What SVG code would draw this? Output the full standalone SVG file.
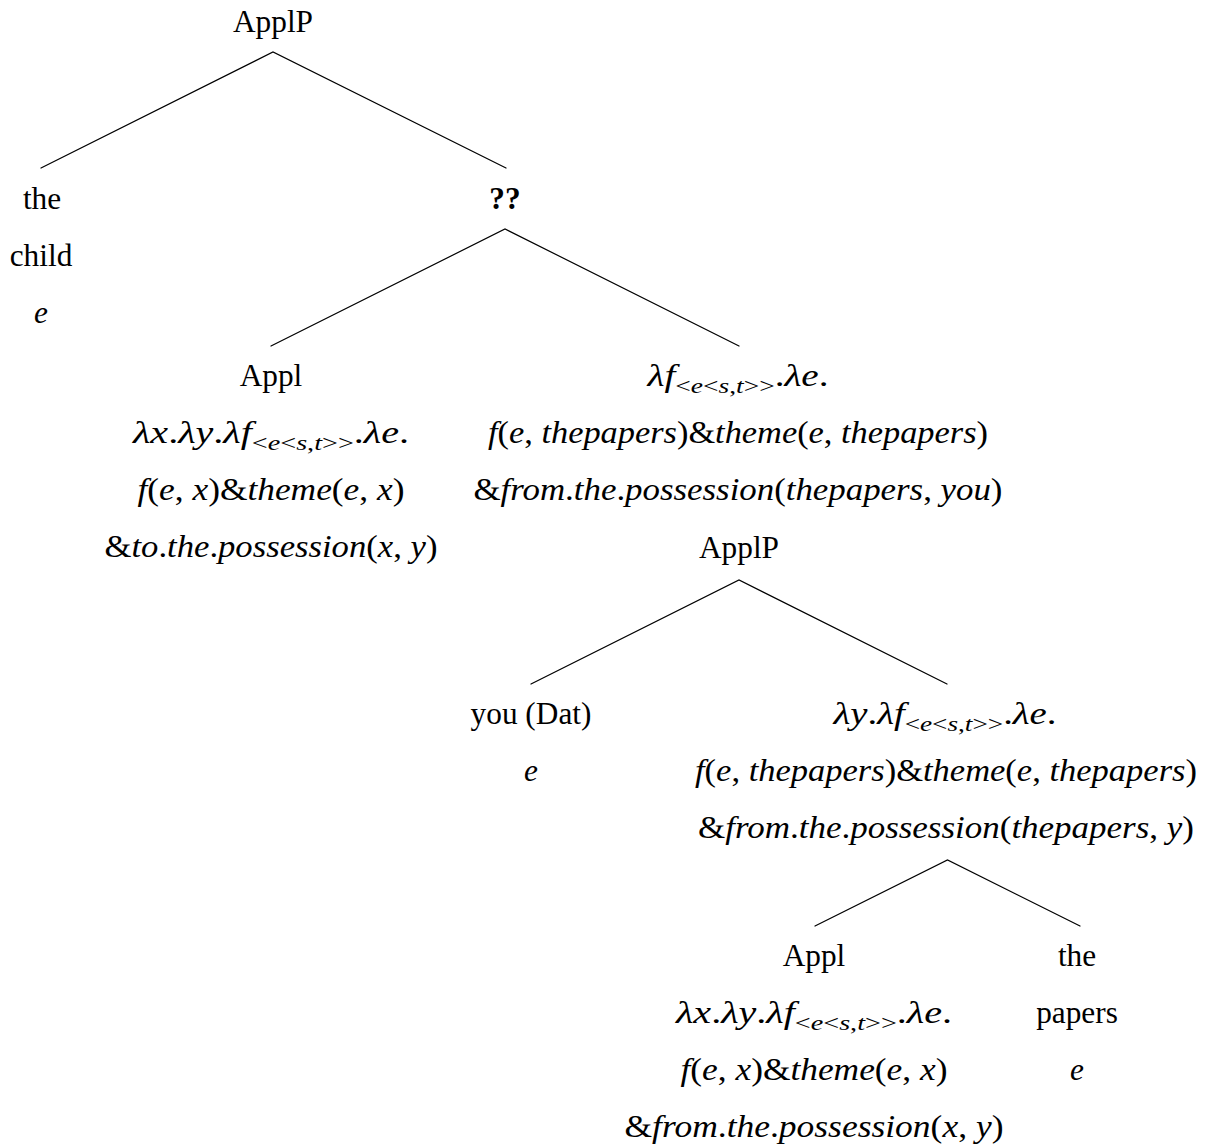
<svg xmlns="http://www.w3.org/2000/svg" width="1210" height="1148" viewBox="0 0 1210 1148">
<style>
.t{font-family:"Liberation Serif","Times New Roman",serif;font-size:31.3px;fill:#000;text-anchor:middle}
.i{font-style:italic}
.s{font-size:22px}
.b{font-weight:bold}
.edge{stroke:#000;stroke-width:1.2;fill:none;stroke-linecap:round}
</style>
<rect width="1210" height="1148" fill="#fff"/>
<g id="connectors">
<path class="edge" d="M41,168 L273,52 L506,168"/>
<path class="edge" d="M271,346 L505,229 L739,346"/>
<path class="edge" d="M531,684 L739,580 L947,684"/>
<path class="edge" d="M815,926 L947.5,860 L1080,926"/>
</g>
<g id="n-applp-top">
<text class="t" x="273" y="32">ApplP</text>
</g>
<g id="n-thechild">
<text class="t" x="42" y="209">the</text>
<text class="t" x="41" y="266">child</text>
<text class="t i" x="41" y="323">e</text>
</g>
<g id="n-qq">
<text class="t b" x="505" y="209">??</text>
</g>
<g id="n-appl-left">
<text class="t" x="271" y="386">Appl</text>
<text class="t" x="271" y="443" textLength="276" lengthAdjust="spacingAndGlyphs"><tspan class="i">λx</tspan>.<tspan class="i">λy</tspan>.<tspan class="i">λf</tspan><tspan class="s" dy="7">&lt;<tspan class="i">e</tspan>&lt;<tspan class="i">s</tspan>,<tspan class="i">t</tspan>&gt;&gt;</tspan><tspan dy="-7">.</tspan><tspan class="i">λe</tspan>.</text>
<text class="t" x="271" y="500" textLength="267" lengthAdjust="spacingAndGlyphs"><tspan class="i">f</tspan>(<tspan class="i">e</tspan>, <tspan class="i">x</tspan>)&amp;<tspan class="i">theme</tspan>(<tspan class="i">e</tspan>, <tspan class="i">x</tspan>)</text>
<text class="t" x="271" y="557" textLength="333" lengthAdjust="spacingAndGlyphs">&amp;<tspan class="i">to</tspan>.<tspan class="i">the</tspan>.<tspan class="i">possession</tspan>(<tspan class="i">x</tspan>, <tspan class="i">y</tspan>)</text>
</g>
<g id="n-lambda-f">
<text class="t" x="738" y="386" textLength="181" lengthAdjust="spacingAndGlyphs"><tspan class="i">λf</tspan><tspan class="s" dy="7">&lt;<tspan class="i">e</tspan>&lt;<tspan class="i">s</tspan>,<tspan class="i">t</tspan>&gt;&gt;</tspan><tspan dy="-7">.</tspan><tspan class="i">λe</tspan>.</text>
<text class="t" x="738" y="443" textLength="500" lengthAdjust="spacingAndGlyphs"><tspan class="i">f</tspan>(<tspan class="i">e</tspan>, <tspan class="i">thepapers</tspan>)&amp;<tspan class="i">theme</tspan>(<tspan class="i">e</tspan>, <tspan class="i">thepapers</tspan>)</text>
<text class="t" x="738" y="500" textLength="529" lengthAdjust="spacingAndGlyphs">&amp;<tspan class="i">from</tspan>.<tspan class="i">the</tspan>.<tspan class="i">possession</tspan>(<tspan class="i">thepapers</tspan>, <tspan class="i">you</tspan>)</text>
</g>
<g id="n-applp-low">
<text class="t" x="739" y="558">ApplP</text>
</g>
<g id="n-you">
<text class="t" x="531" y="724">you (Dat)</text>
<text class="t i" x="531" y="781">e</text>
</g>
<g id="n-lambda-y">
<text class="t" x="945" y="724" textLength="223" lengthAdjust="spacingAndGlyphs"><tspan class="i">λy</tspan>.<tspan class="i">λf</tspan><tspan class="s" dy="7">&lt;<tspan class="i">e</tspan>&lt;<tspan class="i">s</tspan>,<tspan class="i">t</tspan>&gt;&gt;</tspan><tspan dy="-7">.</tspan><tspan class="i">λe</tspan>.</text>
<text class="t" x="946" y="781" textLength="502" lengthAdjust="spacingAndGlyphs"><tspan class="i">f</tspan>(<tspan class="i">e</tspan>, <tspan class="i">thepapers</tspan>)&amp;<tspan class="i">theme</tspan>(<tspan class="i">e</tspan>, <tspan class="i">thepapers</tspan>)</text>
<text class="t" x="946" y="838" textLength="496" lengthAdjust="spacingAndGlyphs">&amp;<tspan class="i">from</tspan>.<tspan class="i">the</tspan>.<tspan class="i">possession</tspan>(<tspan class="i">thepapers</tspan>, <tspan class="i">y</tspan>)</text>
</g>
<g id="n-appl-low">
<text class="t" x="814" y="966">Appl</text>
<text class="t" x="814" y="1023" textLength="276" lengthAdjust="spacingAndGlyphs"><tspan class="i">λx</tspan>.<tspan class="i">λy</tspan>.<tspan class="i">λf</tspan><tspan class="s" dy="7">&lt;<tspan class="i">e</tspan>&lt;<tspan class="i">s</tspan>,<tspan class="i">t</tspan>&gt;&gt;</tspan><tspan dy="-7">.</tspan><tspan class="i">λe</tspan>.</text>
<text class="t" x="814" y="1080" textLength="267" lengthAdjust="spacingAndGlyphs"><tspan class="i">f</tspan>(<tspan class="i">e</tspan>, <tspan class="i">x</tspan>)&amp;<tspan class="i">theme</tspan>(<tspan class="i">e</tspan>, <tspan class="i">x</tspan>)</text>
<text class="t" x="814" y="1137" textLength="379" lengthAdjust="spacingAndGlyphs">&amp;<tspan class="i">from</tspan>.<tspan class="i">the</tspan>.<tspan class="i">possession</tspan>(<tspan class="i">x</tspan>, <tspan class="i">y</tspan>)</text>
</g>
<g id="n-thepapers">
<text class="t" x="1077" y="966">the</text>
<text class="t" x="1077" y="1023">papers</text>
<text class="t i" x="1077" y="1080">e</text>
</g>
</svg>
